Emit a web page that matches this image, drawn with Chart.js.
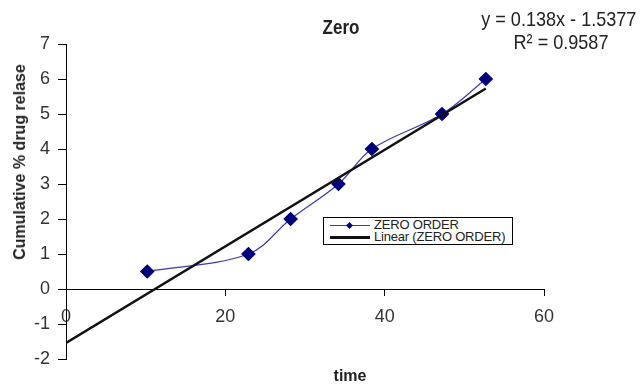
<!DOCTYPE html>
<html>
<head>
<meta charset="utf-8">
<script src="https://cdn.jsdelivr.net/npm/chart.js@4.4.0/dist/chart.umd.min.js"></script>
<style>
  html, body { margin: 0; padding: 0; background: #fff; }
  #wrap { position: relative; width: 642px; height: 386px; font-family: "Liberation Sans", Arial, sans-serif; color: #222; }
  canvas { position: absolute; left: 0; top: 0; }
  .ov { position: absolute; white-space: nowrap; }
  #title { left: 341px; top: 27px; font-weight: bold; font-size: 20px; transform: translate(-50%, -50%) scaleX(0.85); }
  #eq1 { right: 6px; top: 8px; font-size: 21px; transform-origin: right center; transform: scaleX(0.86); line-height: 22px; }
  #eq2 { left: 561px; top: 42px; font-size: 21px; transform: translate(-50%, -50%) scaleX(0.86); }
  #ytitle { left: 20px; top: 162px; font-weight: bold; font-size: 16px; transform: translate(-50%, -50%) rotate(-90deg); }
  #xtitle { left: 350px; top: 376px; font-weight: bold; font-size: 16px; transform: translate(-50%, -50%); }
  #legend { position: absolute; left: 323px; top: 217px; width: 188px; height: 26px; border: 1px solid #000; background: #fff; font-size: 13px; line-height: 13px; }
  .lrow { position: absolute; left: 6px; height: 13px; }
  .lrow .samp { position: absolute; left: 0; top: 6px; width: 40px; }
  .lrow .txt { position: absolute; left: 44px; top: -1px; letter-spacing: -0.2px; white-space: nowrap; }
  .diamond { position: absolute; left: 17px; top: -3px; width: 5px; height: 5px; background: #00007f; transform: rotate(45deg); }
</style>
</head>
<body>
<div id="wrap">
  <canvas id="c" width="642" height="386"></canvas>
  <div class="ov" id="title">Zero</div>
  <div class="ov" id="eq1">y = 0.138x - 1.5377</div>
  <div class="ov" id="eq2">R² = 0.9587</div>
  <div class="ov" id="ytitle">Cumulative % drug relase</div>
  <div class="ov" id="xtitle">time</div>
  <div id="legend">
    <div class="lrow" style="top:1px;">
      <div class="samp" style="border-top:1px solid #3a3aa8;"><div class="diamond"></div></div>
      <div class="txt">ZERO ORDER</div>
    </div>
    <div class="lrow" style="top:13px;">
      <div class="samp" style="border-top:3px solid #111;top:5px;"></div>
      <div class="txt">Linear (ZERO ORDER)</div>
    </div>
  </div>
</div>
<script>
// Data
const timeValues = [10.2, 22.9, 28.2, 34.2, 38.4, 47.2, 52.7];
const releaseValues = [0.5, 1, 2, 3, 4, 5, 6];
// Linear trendline endpoints as drawn in the chart
const trendTime = [0, 52.7];
const trendRelease = [-1.54, 5.73];
const xTicks = [0, 20, 40, 60];
const yTicks = [-2, -1, 0, 1, 2, 3, 4, 5, 6, 7];

const seriesPts = timeValues.map((t, i) => ({ x: t, y: releaseValues[i] }));
const trendPts = trendTime.map((t, i) => ({ x: t, y: trendRelease[i] }));

new Chart(document.getElementById('c'), {
  type: 'scatter',
  data: {
    datasets: [
      {
        label: 'Linear (ZERO ORDER)',
        data: trendPts,
        showLine: true,
        borderColor: '#111',
        borderWidth: 2.5,
        pointRadius: 0,
        order: 0
      },
      {
        label: 'ZERO ORDER',
        data: seriesPts,
        showLine: true,
        borderColor: '#3a3aa8',
        borderWidth: 1.2,
        tension: 0.35,
        pointStyle: 'rectRot',
        pointRadius: 6.5,
        pointBackgroundColor: '#00007f',
        pointBorderColor: '#00007f',
        order: 1
      }
    ]
  },
  options: {
    responsive: false,
    animation: false,
    layout: { padding: { top: 44, right: 98, left: 0, bottom: 0 } },
    plugins: { legend: { display: false }, tooltip: { enabled: false }, title: { display: false } },
    scales: {
      x: {
        type: 'linear',
        position: { y: 0 },
        min: 0, max: 60,
        afterBuildTicks: s => { s.ticks = xTicks.map(v => ({ value: v })); },
        ticks: { color: '#333', font: { family: 'Liberation Sans', size: 18 }, padding: 11, maxRotation: 0 },
        grid: { drawOnChartArea: false, drawTicks: true, tickLength: 6, color: '#000' },
        border: { color: '#000', width: 1 }
      },
      xb: {
        type: 'linear',
        position: 'bottom',
        min: 0, max: 60,
        ticks: { display: false },
        grid: { display: false },
        border: { display: false },
        afterFit: s => { s.height = 27; }
      },
      y: {
        type: 'linear',
        min: -2, max: 7,
        afterBuildTicks: s => { s.ticks = yTicks.map(v => ({ value: v })); },
        ticks: { color: '#333', font: { family: 'Liberation Sans', size: 18 }, padding: 8 },
        grid: { drawOnChartArea: false, drawTicks: true, tickLength: 8, color: '#000' },
        border: { color: '#000', width: 1 },
        afterFit: s => { s.width = 66; }
      }
    }
  }
});
</script>
</body>
</html>
